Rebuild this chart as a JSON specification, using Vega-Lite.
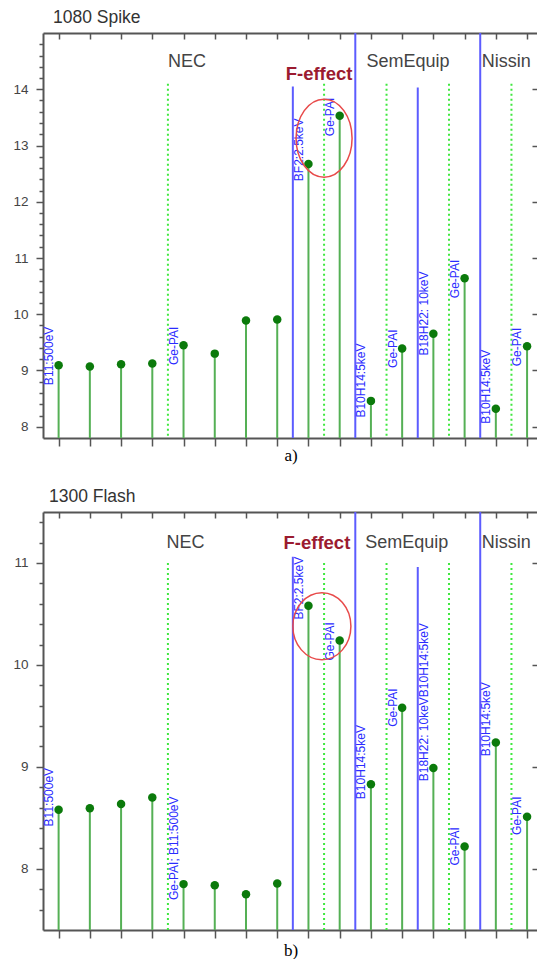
{
  "$schema": "https://vega.github.io/schema/vega-lite/v6.json",
  "padding": {"left": 12, "top": 8, "right": 0, "bottom": 0},
  "background": "white",
  "spacing": 23,
  "config": {
    "view": {"stroke": null},
    "font": "Liberation Sans",
    "title": {"fontSize": 17.5, "fontWeight": "normal", "color": "#333333", "anchor": "start", "frame": "group", "offset": 6, "font": "Liberation Sans"},
    "axis": {"domainColor": "#555555", "domainWidth": 2, "tickColor": "#555555", "tickWidth": 1.5, "grid": false, "labelFont": "Liberation Sans", "labelFontSize": 13.5, "labelColor": "#444444"}
  },
  "datasets": {
    "spike_stems": [
      {"x": 1, "v": 9.095}, {"x": 2, "v": 9.07}, {"x": 3, "v": 9.11}, {"x": 4, "v": 9.125},
      {"x": 5, "v": 9.45}, {"x": 6, "v": 9.3}, {"x": 7, "v": 9.89}, {"x": 8, "v": 9.905},
      {"x": 9, "v": 12.67}, {"x": 10, "v": 13.53}, {"x": 11, "v": 8.46}, {"x": 12, "v": 9.39},
      {"x": 13, "v": 9.655}, {"x": 14, "v": 10.64}, {"x": 15, "v": 8.32}, {"x": 16, "v": 9.43}
    ],
    "spike_lines": [
      {"x": 4.5, "top": 14.1, "kind": "green"}, {"x": 8.5, "top": 14.05, "kind": "blue"},
      {"x": 9.5, "top": 14.1, "kind": "green"}, {"x": 10.5, "top": 15, "kind": "blue"},
      {"x": 11.5, "top": 14.1, "kind": "green"}, {"x": 12.5, "top": 14.03, "kind": "blue"},
      {"x": 13.5, "top": 14.1, "kind": "green"}, {"x": 14.5, "top": 15, "kind": "blue"},
      {"x": 15.5, "top": 14.1, "kind": "green"}
    ],
    "spike_labels": [
      {"x": 0.5, "y": 9.78, "label": "B11:500eV"}, {"x": 4.5, "y": 9.78, "label": "Ge-PAI"},
      {"x": 8.5, "y": 13.48, "label": "BF2:2.5keV"}, {"x": 9.5, "y": 13.85, "label": "Ge-PAI"},
      {"x": 10.5, "y": 9.48, "label": "B10H14:5keV"}, {"x": 11.5, "y": 9.73, "label": "Ge-PAI"},
      {"x": 12.5, "y": 10.76, "label": "B18H22: 10keV"}, {"x": 13.5, "y": 10.97, "label": "Ge-PAI"},
      {"x": 14.5, "y": 9.37, "label": "B10H14:5keV"}, {"x": 15.5, "y": 9.76, "label": "Ge-PAI"}
    ],
    "spike_sections": [
      {"x": 5.11, "y": 14.48, "label": "NEC", "kind": "group"},
      {"x": 9.34, "y": 14.27, "label": "F-effect", "kind": "highlight"},
      {"x": 12.19, "y": 14.48, "label": "SemEquip", "kind": "group"},
      {"x": 15.33, "y": 14.48, "label": "Nissin", "kind": "group"}
    ],
    "spike_ellipse": [{"x": 9.5, "y": 13.13}],
    "flash_stems": [
      {"x": 1, "v": 8.58}, {"x": 2, "v": 8.595}, {"x": 3, "v": 8.635}, {"x": 4, "v": 8.7},
      {"x": 5, "v": 7.85}, {"x": 6, "v": 7.84}, {"x": 7, "v": 7.75}, {"x": 8, "v": 7.855},
      {"x": 9, "v": 10.58}, {"x": 10, "v": 10.24}, {"x": 11, "v": 8.83}, {"x": 12, "v": 9.58},
      {"x": 13, "v": 8.99}, {"x": 14, "v": 8.22}, {"x": 15, "v": 9.24}, {"x": 16, "v": 8.51}
    ],
    "flash_lines": [
      {"x": 4.5, "top": 11.0, "kind": "green"}, {"x": 8.5, "top": 11.06, "kind": "blue"},
      {"x": 9.5, "top": 11.0, "kind": "green"}, {"x": 10.5, "top": 11.5, "kind": "blue"},
      {"x": 11.5, "top": 11.0, "kind": "green"}, {"x": 12.5, "top": 10.96, "kind": "blue"},
      {"x": 13.5, "top": 11.0, "kind": "green"}, {"x": 14.5, "top": 11.5, "kind": "blue"},
      {"x": 15.5, "top": 11.0, "kind": "green"}
    ],
    "flash_labels": [
      {"x": 0.5, "y": 8.99, "label": "B11:500eV"}, {"x": 4.5, "y": 8.71, "label": "Ge-PAI; B11:500eV"},
      {"x": 8.5, "y": 11.06, "label": "BF2:2.5keV"}, {"x": 9.5, "y": 10.42, "label": "Ge-PAI"},
      {"x": 10.5, "y": 9.41, "label": "B10H14:5keV"}, {"x": 11.5, "y": 9.77, "label": "Ge-PAI"},
      {"x": 12.5, "y": 10.41, "label": "B18H22: 10keVB10H14:5keV"}, {"x": 13.5, "y": 8.41, "label": "Ge-PAI"},
      {"x": 14.5, "y": 9.83, "label": "B10H14:5keV"}, {"x": 15.5, "y": 8.71, "label": "Ge-PAI"}
    ],
    "flash_sections": [
      {"x": 5.06, "y": 11.2, "label": "NEC", "kind": "group"},
      {"x": 9.27, "y": 11.2, "label": "F-effect", "kind": "highlight"},
      {"x": 12.15, "y": 11.2, "label": "SemEquip", "kind": "group"},
      {"x": 15.33, "y": 11.2, "label": "Nissin", "kind": "group"}
    ],
    "flash_ellipse": [{"x": 9.43, "y": 10.38}]
  },
  "vconcat": [
    {
      "title": {"text": "1080 Spike", "dx": 10},
      "width": 495,
      "height": 405,
      "resolve": {"axis": {"x": "independent", "y": "independent"}},
      "layer": [
        {
          "data": {"name": "spike_lines"},
          "mark": {"type": "rule", "strokeWidth": 2},
          "encoding": {
            "x": {"field": "x", "type": "quantitative", "scale": {"domain": [0.5, 16.35], "nice": false, "zero": false},
                  "axis": {"orient": "top", "values": [1,2,3,4,5,6,7,8,9,10,11,12,13,14,15,16], "tickSize": -6, "labels": false, "title": null}},
            "y": {"field": "top", "type": "quantitative", "scale": {"domain": [7.8, 15], "nice": false, "zero": false},
                  "axis": {"orient": "right", "values": [8,9,10,11,12,13,14], "tickSize": -6, "labels": false, "domain": false, "title": null}},
            "y2": {"datum": 7.8},
            "color": {"field": "kind", "type": "nominal", "scale": {"domain": ["blue", "green"], "range": ["#5c5cff", "#3fe83f"]}, "legend": null},
            "strokeDash": {"field": "kind", "type": "nominal", "scale": {"domain": ["blue", "green"], "range": [[1, 0], [2, 3]]}, "legend": null}
          }
        },
        {
          "data": {"name": "spike_stems"},
          "mark": {"type": "rule", "color": "#55b055", "strokeWidth": 2},
          "encoding": {
            "x": {"field": "x", "type": "quantitative", "scale": {"domain": [0.5, 16.35], "nice": false, "zero": false},
                  "axis": {"orient": "bottom", "values": [1,2,3,4,5,6,7,8,9,10,11,12,13,14,15,16], "tickSize": 8, "labels": false, "title": "a)",
                           "titleFont": "Liberation Serif", "titleFontSize": 17, "titleColor": "#000000", "titleFontWeight": "normal", "titlePadding": 1}},
            "y": {"field": "v", "type": "quantitative", "scale": {"domain": [7.8, 15], "nice": false, "zero": false},
                  "axis": {"orient": "left", "values": [8,9,10,11,12,13,14], "tickSize": 7, "labelPadding": 8, "title": null}},
            "y2": {"datum": 7.8}
          }
        },
        {
          "data": {"name": "spike_stems"},
          "mark": {"type": "point", "filled": true, "color": "#0b7a0b", "size": 72, "opacity": 1},
          "encoding": {
            "x": {"field": "x", "type": "quantitative", "scale": {"domain": [0.5, 16.35], "nice": false, "zero": false}, "axis": null},
            "y": {"field": "v", "type": "quantitative", "scale": {"domain": [7.8, 15], "nice": false, "zero": false},
                  "axis": {"orient": "left", "values": [8.2,8.4,8.6,8.8,9.2,9.4,9.6,9.8,10.2,10.4,10.6,10.8,11.2,11.4,11.6,11.8,12.2,12.4,12.6,12.8,13.2,13.4,13.6,13.8,14.2,14.4,14.6,14.8], "tickSize": 4, "labels": false, "domain": false, "title": null}}
          }
        },
        {
          "data": {"name": "spike_labels"},
          "mark": {"type": "text", "angle": 270, "align": "right", "baseline": "middle", "dy": 6, "fontSize": 12, "color": "#2b2bff"},
          "encoding": {
            "x": {"field": "x", "type": "quantitative", "scale": {"domain": [0.5, 16.35], "nice": false, "zero": false}, "axis": null},
            "y": {"field": "y", "type": "quantitative", "scale": {"domain": [7.8, 15], "nice": false, "zero": false}, "axis": null},
            "text": {"field": "label"}
          }
        },
        {
          "data": {"name": "spike_sections"},
          "transform": [{"filter": "datum.kind === 'group'"}],
          "mark": {"type": "text", "align": "center", "baseline": "middle", "fontSize": 18, "color": "#444444"},
          "encoding": {
            "x": {"field": "x", "type": "quantitative", "scale": {"domain": [0.5, 16.35], "nice": false, "zero": false}, "axis": null},
            "y": {"field": "y", "type": "quantitative", "scale": {"domain": [7.8, 15], "nice": false, "zero": false}, "axis": null},
            "text": {"field": "label"}
          }
        },
        {
          "data": {"name": "spike_sections"},
          "transform": [{"filter": "datum.kind === 'highlight'"}],
          "mark": {"type": "text", "align": "center", "baseline": "middle", "fontSize": 18.5, "fontWeight": "bold", "color": "#9b1b30"},
          "encoding": {
            "x": {"field": "x", "type": "quantitative", "scale": {"domain": [0.5, 16.35], "nice": false, "zero": false}, "axis": null},
            "y": {"field": "y", "type": "quantitative", "scale": {"domain": [7.8, 15], "nice": false, "zero": false}, "axis": null},
            "text": {"field": "label"}
          }
        },
        {
          "data": {"name": "spike_ellipse"},
          "mark": {"type": "point", "filled": false, "stroke": "#e84a4a", "strokeWidth": 1.5, "opacity": 1, "size": 6084,
                   "shape": "M 0.718 0 C 0.718 0.5523 0.3966 1 0 1 C -0.3966 1 -0.718 0.5523 -0.718 0 C -0.718 -0.5523 -0.3966 -1 0 -1 C 0.3966 -1 0.718 -0.5523 0.718 0 Z"},
          "encoding": {
            "x": {"field": "x", "type": "quantitative", "scale": {"domain": [0.5, 16.35], "nice": false, "zero": false}, "axis": null},
            "y": {"field": "y", "type": "quantitative", "scale": {"domain": [7.8, 15], "nice": false, "zero": false}, "axis": null}
          }
        }
      ]
    },
    {
      "title": {"text": "1300 Flash", "dx": 6},
      "width": 495,
      "height": 418,
      "resolve": {"axis": {"x": "independent", "y": "independent"}},
      "layer": [
        {
          "data": {"name": "flash_lines"},
          "mark": {"type": "rule", "strokeWidth": 2},
          "encoding": {
            "x": {"field": "x", "type": "quantitative", "scale": {"domain": [0.5, 16.35], "nice": false, "zero": false},
                  "axis": {"orient": "top", "values": [1,2,3,4,5,6,7,8,9,10,11,12,13,14,15,16], "tickSize": -6, "labels": false, "title": null}},
            "y": {"field": "top", "type": "quantitative", "scale": {"domain": [7.4, 11.5], "nice": false, "zero": false},
                  "axis": {"orient": "right", "values": [8,9,10,11], "tickSize": -6, "labels": false, "domain": false, "title": null}},
            "y2": {"datum": 7.4},
            "color": {"field": "kind", "type": "nominal", "scale": {"domain": ["blue", "green"], "range": ["#5c5cff", "#3fe83f"]}, "legend": null},
            "strokeDash": {"field": "kind", "type": "nominal", "scale": {"domain": ["blue", "green"], "range": [[1, 0], [2, 3]]}, "legend": null}
          }
        },
        {
          "data": {"name": "flash_stems"},
          "mark": {"type": "rule", "color": "#55b055", "strokeWidth": 2},
          "encoding": {
            "x": {"field": "x", "type": "quantitative", "scale": {"domain": [0.5, 16.35], "nice": false, "zero": false},
                  "axis": {"orient": "bottom", "values": [1,2,3,4,5,6,7,8,9,10,11,12,13,14,15,16], "tickSize": 8, "labels": false, "title": "b)",
                           "titleFont": "Liberation Serif", "titleFontSize": 17, "titleColor": "#000000", "titleFontWeight": "normal", "titlePadding": 4}},
            "y": {"field": "v", "type": "quantitative", "scale": {"domain": [7.4, 11.5], "nice": false, "zero": false},
                  "axis": {"orient": "left", "values": [8,9,10,11], "tickSize": 7, "labelPadding": 8, "title": null}},
            "y2": {"datum": 7.4}
          }
        },
        {
          "data": {"name": "flash_stems"},
          "mark": {"type": "point", "filled": true, "color": "#0b7a0b", "size": 72, "opacity": 1},
          "encoding": {
            "x": {"field": "x", "type": "quantitative", "scale": {"domain": [0.5, 16.35], "nice": false, "zero": false}, "axis": null},
            "y": {"field": "v", "type": "quantitative", "scale": {"domain": [7.4, 11.5], "nice": false, "zero": false},
                  "axis": {"orient": "left", "values": [7.6,7.8,8.2,8.4,8.6,8.8,9.2,9.4,9.6,9.8,10.2,10.4,10.6,10.8,11.2,11.4], "tickSize": 4, "labels": false, "domain": false, "title": null}}
          }
        },
        {
          "data": {"name": "flash_labels"},
          "mark": {"type": "text", "angle": 270, "align": "right", "baseline": "middle", "dy": 6, "fontSize": 12, "color": "#2b2bff"},
          "encoding": {
            "x": {"field": "x", "type": "quantitative", "scale": {"domain": [0.5, 16.35], "nice": false, "zero": false}, "axis": null},
            "y": {"field": "y", "type": "quantitative", "scale": {"domain": [7.4, 11.5], "nice": false, "zero": false}, "axis": null},
            "text": {"field": "label"}
          }
        },
        {
          "data": {"name": "flash_sections"},
          "transform": [{"filter": "datum.kind === 'group'"}],
          "mark": {"type": "text", "align": "center", "baseline": "middle", "fontSize": 18, "color": "#444444"},
          "encoding": {
            "x": {"field": "x", "type": "quantitative", "scale": {"domain": [0.5, 16.35], "nice": false, "zero": false}, "axis": null},
            "y": {"field": "y", "type": "quantitative", "scale": {"domain": [7.4, 11.5], "nice": false, "zero": false}, "axis": null},
            "text": {"field": "label"}
          }
        },
        {
          "data": {"name": "flash_sections"},
          "transform": [{"filter": "datum.kind === 'highlight'"}],
          "mark": {"type": "text", "align": "center", "baseline": "middle", "fontSize": 18.5, "fontWeight": "bold", "color": "#9b1b30"},
          "encoding": {
            "x": {"field": "x", "type": "quantitative", "scale": {"domain": [0.5, 16.35], "nice": false, "zero": false}, "axis": null},
            "y": {"field": "y", "type": "quantitative", "scale": {"domain": [7.4, 11.5], "nice": false, "zero": false}, "axis": null},
            "text": {"field": "label"}
          }
        },
        {
          "data": {"name": "flash_ellipse"},
          "mark": {"type": "point", "filled": false, "stroke": "#e84a4a", "strokeWidth": 1.5, "opacity": 1, "size": 4489,
                   "shape": "M 0.866 0 C 0.866 0.5523 0.4783 1 0 1 C -0.4783 1 -0.866 0.5523 -0.866 0 C -0.866 -0.5523 -0.4783 -1 0 -1 C 0.4783 -1 0.866 -0.5523 0.866 0 Z"},
          "encoding": {
            "x": {"field": "x", "type": "quantitative", "scale": {"domain": [0.5, 16.35], "nice": false, "zero": false}, "axis": null},
            "y": {"field": "y", "type": "quantitative", "scale": {"domain": [7.4, 11.5], "nice": false, "zero": false}, "axis": null}
          }
        }
      ]
    }
  ]
}
